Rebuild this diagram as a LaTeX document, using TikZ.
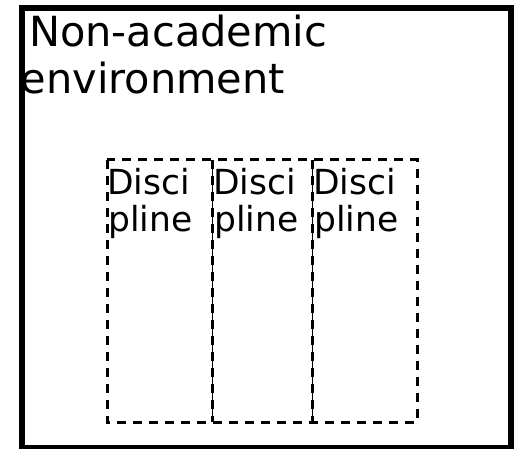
\documentclass[tikz,border=0pt]{standalone}
\usepackage{fontspec}
\setmainfont{DejaVu Sans}
\begin{document}
\begin{tikzpicture}[x=1bp,y=-1bp,
  outerbox/.style={draw=black,line width=6bp},
  colbox/.style={draw=black,line width=3bp,dash pattern=on 9bp off 7bp},
  thinline/.style={draw=black,line width=0.8bp},
  bigtext/.style={anchor=base west,inner sep=0pt,font=\fontsize{41.5bp}{47bp}\selectfont},
  coltext/.style={anchor=base west,inner sep=0pt,font=\fontsize{34.5bp}{37bp}\selectfont}]
\useasboundingbox (0,0) rectangle (519,449);
\fill[white] (0,0) rectangle (519,449);
\draw[outerbox] (21.5,8.5) rectangle (510.5,448);
\node[bigtext] (l1) at (29,47) {Non-academic};
\node[bigtext] (l2) at (20.5,94) {environment};
\coordinate (tl) at (107,160);
\coordinate (br) at (417,422);
\draw[colbox] (tl) rectangle (br);
\foreach \x/\n in {212/a,312/b}{
  \coordinate (t\n) at (\x,160);
  \coordinate (b\n) at (\x,422);
  \draw[thinline] (t\n) -- (b\n);
  \draw[colbox] (t\n) -- (b\n);
}
\foreach \x/\n in {107/a,213/b,313/c}{
  \node[coltext] (d\n) at (\x,195) {Disci};
  \node[coltext] (p\n) at (\x+1,232) {pline};
}
\end{tikzpicture}
\end{document}
